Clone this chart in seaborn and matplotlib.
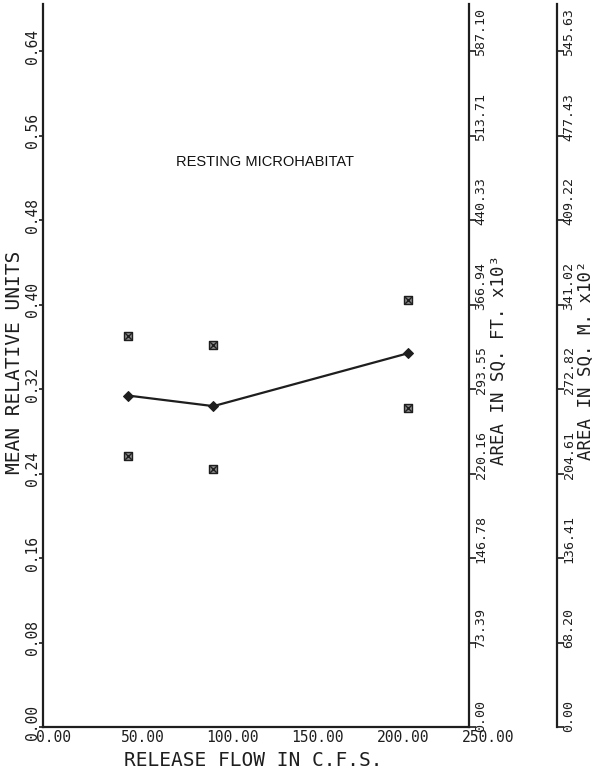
import matplotlib
matplotlib.use("Agg")
import matplotlib.pyplot as plt
import matplotlib.transforms as mtransforms
import seaborn as sns

# ----------------------------------------------------------------------
# Data
# ----------------------------------------------------------------------
flow_cfs = [50, 100, 214]
mean_units = [0.314, 0.304, 0.354]
upper_units = [0.370, 0.362, 0.405]
lower_units = [0.257, 0.244, 0.302]

unit_ticks = [0.00, 0.08, 0.16, 0.24, 0.32, 0.40, 0.48, 0.56, 0.64]
unit_labels = ["0.00", "0.08", "0.16", "0.24", "0.32", "0.40", "0.48", "0.56", "0.64"]
sqft_labels = ["0.00", "73.39", "146.78", "220.16", "293.55", "366.94",
               "440.33", "513.71", "587.10"]
sqm_labels = ["0.00", "68.20", "136.41", "204.61", "272.82", "341.02",
              "409.22", "477.43", "545.63"]
flow_ticks = [0, 50, 100, 150, 200, 250]
flow_labels = ["0.00", "50.00", "100.00", "150.00", "200.00", "250.00"]

# ----------------------------------------------------------------------
# Style
# ----------------------------------------------------------------------
sns.set_style("white")
plt.rcParams["font.family"] = ["DejaVu Sans Mono", "DejaVu Sans"]
INK = "#1e1e1e"
TICK_FS = 10.5
RIGHT_TICK_FS = 9.5

fig = plt.figure(figsize=(5.97, 7.76), dpi=100)
ax = fig.add_axes([43 / 597, 49 / 776, 426 / 597, 723 / 776])

# mean line + spread markers
sns.lineplot(x=flow_cfs, y=mean_units, ax=ax, color=INK, lw=1.6,
             marker="D", markersize=5, markeredgecolor=INK)
for vals in (upper_units, lower_units):
    sns.scatterplot(x=flow_cfs, y=vals, ax=ax, marker="s", s=30,
                    color="#8a8a8a", edgecolor=INK, linewidth=1.0)
    sns.scatterplot(x=flow_cfs, y=vals, ax=ax, marker="x", s=22,
                    color=INK, linewidth=1.0)

ax.set_xlim(0, 250)
ax.set_ylim(0, 0.685)
for side in ("top", "right"):
    ax.spines[side].set_visible(False)
for side in ("left", "bottom"):
    ax.spines[side].set_linewidth(1.6)
    ax.spines[side].set_color(INK)

ax.set_xticks(flow_ticks)
ax.set_yticks(unit_ticks)
ax.tick_params(axis="x", direction="out", length=4, width=1.2, color=INK,
               labelbottom=False)
ax.tick_params(axis="y", direction="out", length=3, width=1.2, color=INK,
               labelleft=False)


def place(base_tr, dx, dy):
    return mtransforms.offset_copy(base_tr, fig=fig, x=dx, y=dy, units="dots")


# x tick labels: left edge a little before the tick
tr = place(ax.get_xaxis_transform(), -7, -3)
for v, lab in zip(flow_ticks, flow_labels):
    ax.text(v, 0, lab, transform=tr, ha="left", va="top", fontsize=TICK_FS,
            color=INK)

# left y tick labels, rotated
tr = place(ax.get_yaxis_transform(), -11, 5)
for v, lab in zip(unit_ticks, unit_labels):
    ax.text(0, v, lab, transform=tr, rotation=90, ha="center", va="center",
            fontsize=TICK_FS, color=INK)

ax.set_xlabel("RELEASE FLOW IN C.F.S.", fontsize=14, color=INK, va="center")
ax.xaxis.set_label_coords(0.493, -0.047)
ax.set_ylabel("MEAN RELATIVE UNITS", fontsize=14, color=INK, va="center")
ax.yaxis.set_label_coords(-0.068, 0.505)

ax.text(0.521, 0.781, "RESTING MICROHABITAT", transform=ax.transAxes,
        ha="center", va="center", fontsize=10.5, color="#111111",
        family="Liberation Sans")

# ----------------------------------------------------------------------
# Two secondary area scales on the right
# ----------------------------------------------------------------------
m_pos = (557 - 43) / 426
for twin_x, labels, title, lab_x in (
    (1.0, sqft_labels, "AREA IN SQ. FT. x10\u00b3", 1.0 + 30 / 426),
    (m_pos, sqm_labels, "AREA IN SQ. M. x10\u00b2", m_pos + 29 / 426),
):
    tw = ax.twinx()
    tw.set_ylim(ax.get_ylim())
    for side in ("left", "top", "bottom"):
        tw.spines[side].set_visible(False)
    tw.spines["right"].set_position(("axes", twin_x))
    tw.spines["right"].set_linewidth(1.6)
    tw.spines["right"].set_color(INK)
    tw.set_yticks(unit_ticks)
    tw.tick_params(axis="y", direction="out", length=5, width=1.2, color=INK,
                   labelright=False)
    tw.grid(False)
    tr = place(tw.get_yaxis_transform(), 12, -5)
    for v, lab in zip(unit_ticks, labels):
        tw.text(twin_x, v, lab, transform=tr, rotation=90, ha="center",
                va="bottom", fontsize=RIGHT_TICK_FS, color=INK)
    tw.text(lab_x, 0.507, title, transform=tw.transAxes, rotation=90,
            ha="center", va="center", fontsize=12.5, color=INK)

fig.savefig("out.png", dpi=100)
